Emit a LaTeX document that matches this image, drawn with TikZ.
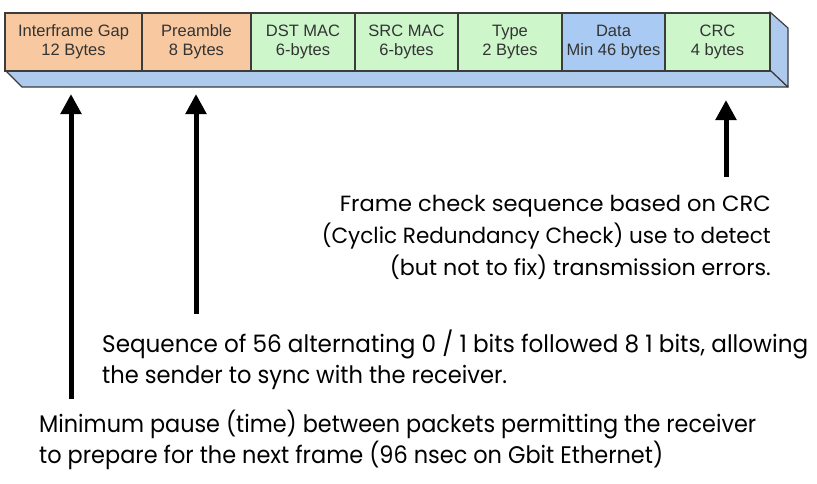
\documentclass[tikz,border=0pt]{standalone}
\usepackage{fontspec}
\usepackage{graphicx}
\setmainfont{Liberation Sans}
\newfontfamily\annotfont{Poppins}
\usetikzlibrary{arrows.meta}
\definecolor{segorange}{HTML}{F8C9A0}
\definecolor{seggreen}{HTML}{CDF6CB}
\definecolor{segblue}{HTML}{A9CBF3}
\definecolor{slabblue}{HTML}{AECBEE}
\definecolor{edgegray}{HTML}{3C3C3C}
\definecolor{segtext}{HTML}{333333}
\newcommand\fitw[2]{\resizebox{#1}{\height}{#2}}
\tikzset{
  seg/.style={draw=edgegray, line width=1.4pt, inner sep=0pt, minimum height=58pt,
    align=center, text=segtext, font=\fontsize{16.5}{19}\selectfont},
  slab/.style={draw=edgegray, line width=1.2pt, fill=slabblue, line join=round},
  uparrow/.style={line width=5pt, -{Triangle[width=20pt,length=20pt]}},
  annot/.style={inner sep=0pt, font=\annotfont\fontsize{22}{31}\selectfont},
  annotb/.style={inner sep=0pt, font=\annotfont\fontsize{24}{31}\selectfont}
}
\begin{document}
\begin{tikzpicture}[x=1pt,y=-1pt]
\useasboundingbox (0,0) rectangle (817,483);
% 3D bar faces
\coordinate (bl) at (5,70);
\coordinate (br) at (770,70);
\coordinate (tr) at (770,12);
\coordinate (bl2) at (22,87);
\coordinate (br2) at (788,87);
\coordinate (tr2) at (788,28);
\draw[slab] (bl) -- (br) -- (br2) -- (bl2) -- cycle;
\draw[slab] (tr) -- (tr2) -- (br2) -- (br) -- cycle;
% segments
\node[seg, fill=segorange, minimum width=137pt] (ifg) at (73.5,42) {Interframe Gap\\12 Bytes};
\node[seg, fill=segorange, minimum width=109pt] (pre) at (196.5,42) {Preamble\\8 Bytes};
\node[seg, fill=seggreen, minimum width=104pt] (dst) at (303,42) {DST MAC\\6-bytes};
\node[seg, fill=seggreen, minimum width=103pt] (src) at (406.5,42) {SRC MAC\\6-bytes};
\node[seg, fill=seggreen, minimum width=104pt] (typ) at (510,42) {Type\\2 Bytes};
\node[seg, fill=segblue, minimum width=103pt] (dat) at (613.5,42) {Data\\Min 46 bytes};
\node[seg, fill=seggreen, minimum width=105pt] (crc) at (717.5,42) {CRC\\4 bytes};
% annotations
\node[annot, anchor=base east] (crc1) at (771,211) {\fitw{431pt}{Frame check sequence based on CRC}};
\node[annot, anchor=base east] (crc2) at (771,243) {\fitw{449pt}{(Cyclic Redundancy Check) use to detect}};
\node[annot, anchor=base east] (crc3) at (771,275) {\fitw{381pt}{(but not to fix) transmission errors.}};
\node[annotb, anchor=base west] (seq1) at (102,352) {\fitw{706pt}{Sequence of 56 alternating 0 / 1 bits followed 8 1 bits, allowing}};
\node[annotb, anchor=base west] (seq2) at (102,383) {\fitw{405pt}{the sender to sync with the receiver.}};
\node[annotb, anchor=base west] (gap1) at (39,432) {\fitw{717pt}{Minimum pause (time) between packets permitting the receiver}};
\node[annotb, anchor=base west] (gap2) at (39,463) {\fitw{624pt}{to prepare for the next frame (96 nsec on Gbit Ethernet)}};
% arrows
\coordinate (a1s) at (71,399);
\coordinate (a1e) at (71,94);
\coordinate (a2s) at (196,314);
\coordinate (a2e) at (196,94);
\coordinate (a3s) at (726,177);
\coordinate (a3e) at (726,100);
\draw[uparrow] (a1s) -- (a1e);
\draw[uparrow] (a2s) -- (a2e);
\draw[uparrow] (a3s) -- (a3e);
\end{tikzpicture}
\end{document}
